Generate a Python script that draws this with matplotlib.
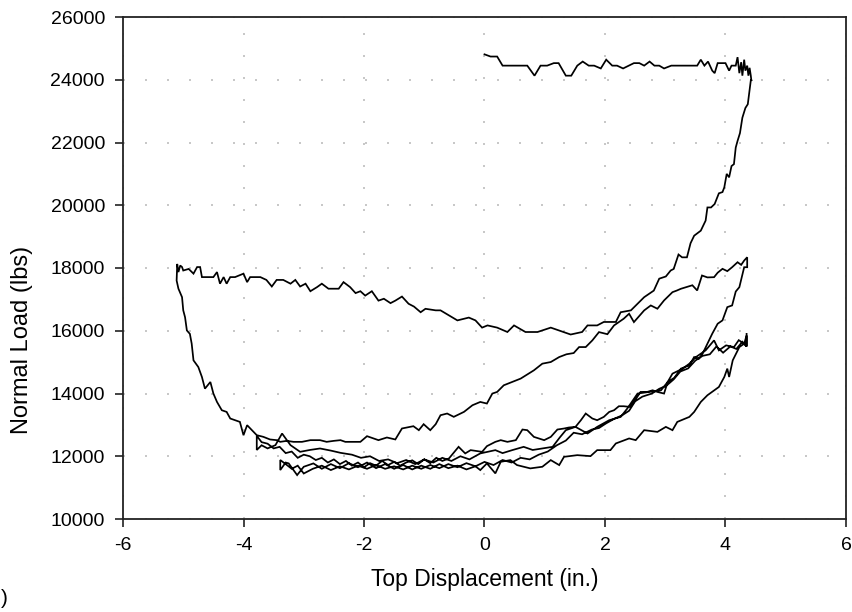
import matplotlib
matplotlib.use("Agg")
import matplotlib.pyplot as plt

plt.rcParams["font.family"] = ["Liberation Sans", "DejaVu Sans"]

# Load path, split into branches between displacement reversals: (displacement in., load lbs)
initial_hold = [
    (0.00, 24810), (0.10, 24740), (0.21, 24740), (0.30, 24450), (0.71, 24450), (0.83, 24130),
    (0.93, 24450), (1.04, 24450), (1.15, 24530), (1.23, 24530), (1.35, 24130), (1.44, 24130),
    (1.54, 24450), (1.63, 24580), (1.73, 24450), (1.82, 24450), (1.93, 24360), (2.02, 24640),
    (2.12, 24450), (2.20, 24450), (2.30, 24360), (2.48, 24530), (2.57, 24530), (2.65, 24450),
    (2.74, 24580), (2.82, 24450), (2.90, 24450), (2.98, 24360), (3.10, 24450), (3.30, 24450),
    (3.53, 24450), (3.59, 24640), (3.65, 24450), (3.71, 24580), (3.78, 24290), (3.82, 24210),
    (3.87, 24530), (4.00, 24530), (4.06, 24290), (4.10, 24450), (4.17, 24450), (4.20, 24720),
    (4.23, 24210), (4.26, 24560), (4.28, 24130), (4.31, 24640), (4.33, 24290), (4.36, 24450),
    (4.38, 24130), (4.40, 24380), (4.42, 24130), (4.43, 23960),
]

first_unload = [
    (4.43, 24000), (4.42, 23980), (4.37, 23220), (4.33, 23100), (4.28, 22790), (4.24, 22300),
    (4.20, 22050), (4.17, 21840), (4.14, 21310), (4.10, 21250), (4.06, 20890), (4.02, 21000),
    (3.98, 20570), (3.95, 20420), (3.89, 20380), (3.82, 20040), (3.76, 19930), (3.70, 19930),
    (3.67, 19510), (3.59, 19190), (3.48, 19030), (3.42, 18790), (3.36, 18340), (3.28, 18340),
    (3.22, 18430), (3.14, 17970), (3.09, 17920), (3.01, 17730), (2.90, 17660), (2.81, 17280),
    (2.65, 17070), (2.54, 16860), (2.43, 16650), (2.26, 16590), (2.18, 16280), (1.98, 16280),
    (1.87, 16170), (1.71, 16170), (1.62, 15960), (1.43, 15880), (1.10, 16100), (0.88, 15960),
    (0.68, 15960), (0.49, 16170), (0.38, 15960), (0.21, 16100), (0.05, 16170), (-0.04, 16100),
    (-0.15, 16330), (-0.26, 16420), (-0.45, 16330), (-0.59, 16490), (-0.73, 16650), (-0.81, 16650),
    (-0.98, 16700), (-1.06, 16590), (-1.17, 16770), (-1.26, 16860), (-1.37, 17090), (-1.48, 16960),
    (-1.56, 16880), (-1.67, 17020), (-1.76, 16960), (-1.87, 17260), (-1.98, 17120), (-2.06, 17260),
    (-2.14, 17200), (-2.23, 17390), (-2.34, 17550), (-2.42, 17340), (-2.59, 17340), (-2.70, 17500),
    (-2.78, 17390), (-2.89, 17260), (-2.97, 17500), (-3.06, 17410), (-3.14, 17620), (-3.22, 17500),
    (-3.34, 17620), (-3.45, 17620), (-3.53, 17410), (-3.62, 17620), (-3.72, 17710), (-3.89, 17710),
    (-3.94, 17550), (-4.00, 17820), (-4.14, 17710), (-4.22, 17710), (-4.28, 17500), (-4.33, 17710),
    (-4.39, 17500), (-4.44, 17870), (-4.50, 17710), (-4.61, 17710), (-4.69, 17710), (-4.72, 18030),
    (-4.77, 18030), (-4.83, 17820), (-4.91, 17970), (-5.00, 17920), (-5.02, 18030), (-5.05, 18080),
    (-5.08, 17870), (-5.10, 18130), (-5.11, 17600),
]

first_reload = [
    (-5.11, 17600), (-5.08, 17340), (-5.02, 17070), (-5.00, 16650), (-4.97, 16430), (-4.94, 16010),
    (-4.89, 15900), (-4.86, 15590), (-4.83, 15057), (-4.75, 14844), (-4.69, 14526), (-4.64, 14155),
    (-4.55, 14367), (-4.50, 14000), (-4.44, 13731), (-4.36, 13467), (-4.28, 13413), (-4.22, 13203),
    (-4.14, 13149), (-4.06, 13095), (-4.00, 12670), (-3.94, 12990), (-3.86, 12831), (-3.78, 12672),
    (-3.67, 12618), (-3.56, 12535), (-3.45, 12513), (-3.39, 12459), (-3.28, 12491), (-3.17, 12459),
    (-3.03, 12459), (-2.89, 12513), (-2.73, 12513), (-2.62, 12459), (-2.50, 12491), (-2.39, 12513),
    (-2.31, 12459), (-2.06, 12459), (-1.95, 12640), (-1.84, 12566), (-1.76, 12513), (-1.62, 12598),
    (-1.48, 12535), (-1.37, 12885), (-1.29, 12916), (-1.18, 12958), (-1.09, 12831), (-1.01, 13022),
    (-0.90, 12831), (-0.81, 13022), (-0.73, 13308), (-0.62, 13362), (-0.51, 13256), (-0.34, 13415),
    (-0.20, 13626), (-0.07, 13731), (0.04, 13680), (0.13, 13998), (0.21, 14050), (0.32, 14262),
    (0.46, 14367), (0.60, 14475), (0.82, 14739), (0.96, 14951), (1.10, 15003), (1.24, 15162),
    (1.36, 15250), (1.48, 15289), (1.57, 15480), (1.68, 15480), (1.79, 15693), (1.90, 15957),
    (2.04, 15890), (2.15, 16170), (2.31, 16383), (2.40, 16542), (2.48, 16276), (2.65, 16648),
    (2.76, 16807), (2.87, 16702), (2.98, 16966), (3.12, 17230), (3.19, 17280), (3.26, 17338),
    (3.45, 17450), (3.53, 17284), (3.61, 17761), (3.70, 17700), (3.81, 17707), (3.87, 17850),
    (3.95, 17974), (4.03, 17900), (4.11, 18025), (4.20, 18184), (4.26, 18100), (4.31, 18238),
    (4.36, 18343),
]

second_unload = [
    (4.36, 18343), (4.36, 18025), (4.31, 18025), (4.23, 17389), (4.17, 17250), (4.11, 16807),
    (4.03, 16753), (3.95, 16330), (3.87, 16224), (3.78, 15906), (3.70, 15588), (3.62, 15270),
    (3.56, 15111), (3.48, 15162), (3.40, 14898), (3.26, 14793), (3.15, 14500), (3.04, 14367),
    (2.98, 13998), (2.87, 14050), (2.79, 14103), (2.70, 14050), (2.59, 14050), (2.48, 13731),
    (2.42, 13572), (2.31, 13594), (2.23, 13594), (2.15, 13467), (2.07, 13413), (1.98, 13254),
    (1.87, 13149), (1.79, 13203), (1.68, 13362), (1.60, 13149), (1.51, 12936), (1.40, 12916),
    (1.32, 12884), (1.21, 12852), (1.10, 12617), (0.99, 12513), (0.82, 12617), (0.71, 12831),
    (0.63, 12852), (0.52, 12513), (0.38, 12459), (0.27, 12513), (0.18, 12459), (0.04, 12322),
    (-0.04, 12141), (-0.23, 12195), (-0.32, 12090), (-0.43, 12300), (-0.59, 11930), (-0.70, 11850),
    (-0.80, 11950), (-0.90, 11780), (-1.00, 11900), (-1.10, 11750), (-1.20, 11870), (-1.30, 11800),
    (-1.40, 11700), (-1.50, 11820), (-1.60, 11720), (-1.70, 11850), (-1.80, 11700), (-1.90, 11780),
    (-2.00, 11650), (-2.10, 11800), (-2.20, 11700), (-2.30, 11850), (-2.40, 11750), (-2.50, 11900),
    (-2.60, 11800), (-2.70, 11950), (-2.80, 11880), (-2.90, 12000), (-3.00, 12050), (-3.10, 11950),
    (-3.20, 12150), (-3.30, 12100), (-3.40, 12300), (-3.50, 12250), (-3.60, 12400), (-3.70, 12450),
    (-3.78, 12650), (-3.78, 12200),
]

second_reload = [
    (-3.78, 12200), (-3.70, 12350), (-3.60, 12250), (-3.47, 12354), (-3.36, 12725), (-3.22, 12354),
    (-3.06, 12141), (-2.90, 12200), (-2.73, 12248), (-2.55, 12180), (-2.39, 12109), (-2.20, 12050),
    (-2.05, 11950), (-1.90, 12000), (-1.75, 11850), (-1.60, 11900), (-1.45, 11780), (-1.30, 11880),
    (-1.15, 11750), (-1.00, 11900), (-0.85, 11800), (-0.70, 11950), (-0.55, 11850), (-0.40, 12000),
    (-0.25, 11900), (-0.07, 12090), (0.18, 12195), (0.30, 12100), (0.46, 12195), (0.65, 12300),
    (0.80, 12200), (0.96, 12248), (1.13, 12300), (1.25, 12600), (1.35, 12831), (1.51, 12936),
    (1.71, 12725), (1.87, 12936), (2.07, 13149), (2.26, 13254), (2.37, 13521), (2.54, 13998),
    (2.73, 14050), (2.93, 14103), (3.04, 14367), (3.12, 14633), (3.29, 14793), (3.40, 14950),
    (3.51, 15162), (3.67, 15375), (3.81, 15693), (3.89, 15375), (4.01, 15534), (4.14, 15480),
    (4.22, 15700), (4.31, 15587), (4.35, 15850),
]

third_unload = [
    (4.35, 15850), (4.35, 15500), (4.28, 15650), (4.18, 15420), (4.08, 15500), (3.96, 15300),
    (3.85, 15500), (3.74, 15250), (3.62, 15200), (3.50, 15050), (3.38, 14800), (3.25, 14700),
    (3.14, 14450), (3.02, 14250), (2.90, 14150), (2.78, 14000), (2.62, 13900), (2.50, 13750),
    (2.40, 13450), (2.28, 13300), (2.16, 13200), (2.02, 13050), (1.90, 12900), (1.78, 12850),
    (1.62, 12700), (1.48, 12750), (1.35, 12500), (1.20, 12350), (1.05, 12150), (0.90, 12050),
    (0.75, 11900), (0.60, 11950), (0.45, 11800), (0.30, 11880), (0.15, 11720), (0.00, 11820),
    (-0.15, 11680), (-0.30, 11780), (-0.45, 11650), (-0.60, 11750), (-0.75, 11620), (-0.90, 11720),
    (-1.05, 11600), (-1.20, 11700), (-1.35, 11580), (-1.50, 11680), (-1.65, 11600), (-1.80, 11720),
    (-1.95, 11600), (-2.10, 11700), (-2.25, 11580), (-2.40, 11680), (-2.55, 11560), (-2.70, 11700),
    (-2.85, 11600), (-3.00, 11450), (-3.10, 11700), (-3.20, 11600), (-3.30, 11750), (-3.39, 11880),
    (-3.39, 11560),
]

third_reload = [
    (-3.39, 11560), (-3.30, 11800), (-3.25, 11772), (-3.11, 11400), (-3.00, 11665), (-2.84, 11772),
    (-2.70, 11600), (-2.55, 11750), (-2.40, 11620), (-2.25, 11780), (-2.10, 11650), (-1.95, 11800),
    (-1.80, 11620), (-1.65, 11750), (-1.50, 11600), (-1.35, 11720), (-1.20, 11580), (-1.05, 11700),
    (-0.90, 11600), (-0.75, 11750), (-0.60, 11620), (-0.45, 11700), (-0.30, 11580), (-0.15, 11680),
    (-0.07, 11559), (0.04, 11772), (0.18, 11454), (0.27, 11823), (0.43, 11877), (0.54, 11718),
    (0.76, 11613), (0.96, 11665), (1.10, 11877), (1.24, 11718), (1.32, 11982), (1.54, 12035),
    (1.76, 12004), (1.87, 12195), (2.09, 12195), (2.18, 12408), (2.40, 12567), (2.51, 12513),
    (2.65, 12831), (2.87, 12777), (3.01, 12936), (3.12, 12831), (3.20, 13095), (3.40, 13254),
    (3.48, 13413), (3.59, 13731), (3.70, 13944), (3.89, 14208), (3.98, 14526), (4.03, 14793),
    (4.06, 14526), (4.12, 15057), (4.23, 15480), (4.31, 15587), (4.35, 15500), (4.35, 15900),
]

branches = [initial_hold, first_unload, first_reload, second_unload,
            second_reload, third_unload, third_reload]

x_ticks = [-6, -4, -2, 0, 2, 4, 6]
y_ticks = [10000, 12000, 14000, 16000, 18000, 20000, 22000, 24000, 26000]

fig = plt.figure(figsize=(8.53, 6.12), dpi=100)
ax = fig.add_axes([123 / 853, 1 - 519 / 612, (846 - 123) / 853, (519 - 17) / 612])

path = [p for branch in branches for p in branch]
ax.plot([p[0] for p in path], [p[1] for p in path], color="black", lw=1.25,
        solid_joinstyle="miter")

ax.set_xlim(-6, 6)
ax.set_ylim(10000, 26000)
ax.set_xticks(x_ticks)
ax.set_yticks(y_ticks)
ax.set_xticklabels([str(v) for v in x_ticks])
ax.set_yticklabels([str(v) for v in y_ticks])
ax.tick_params(direction="out", length=6, width=1.2, labelsize=14, colors="#222222",
               labelcolor="black", pad=7)
ax.grid(True, color="#bdbdbd", linestyle=(0, (1.2, 12)), linewidth=1.2)
ax.set_axisbelow(True)
for s in ax.spines.values():
    s.set_color("#222222")
    s.set_linewidth(1.3)

ax.set_xlabel("Top Displacement (in.)", fontsize=16.5, labelpad=10)
ax.set_ylabel("Normal Load (lbs)", fontsize=17, va="center")
# y label sits lower than the axis midpoint
ax.yaxis.set_label_coords((22 - 123) / 723, (519 - 340) / 502)

# panel marker at the lower-left corner
fig.text(0.5 / 853, 1 - 598 / 612, ")", fontsize=15, ha="left", va="center")

fig.savefig("out.png", dpi=100)
